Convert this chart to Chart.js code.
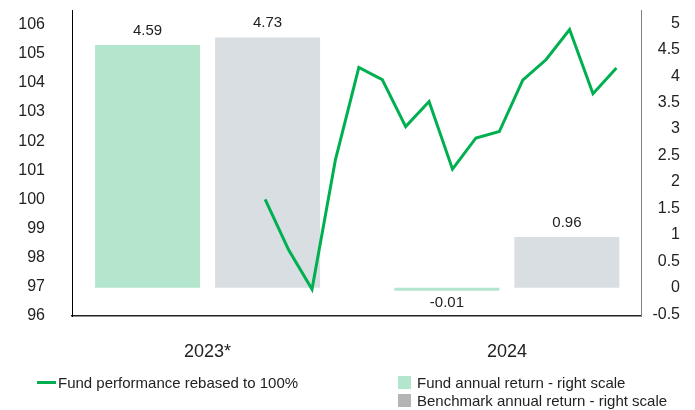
<!DOCTYPE html>
<html>
<head>
<meta charset="utf-8">
<script src="https://cdn.jsdelivr.net/npm/chart.js@4/dist/chart.umd.min.js"></script>
<style>
html, body { margin: 0; padding: 0; background: #fff; }
#wrap { position: relative; width: 695px; height: 410px; font-family: Arial, "Liberation Sans", sans-serif; }
#c { position: absolute; left: 0; top: 0; }
.lg { position: absolute; font-size: 15px; color: #222; white-space: nowrap; display: flex; align-items: center; height: 17px; }
.sw { display: inline-block; width: 13px; height: 13px; margin-right: 6px; }
.ln { display: inline-block; width: 19px; height: 3px; margin-right: 2px; }
</style>
</head>
<body>
<div id="wrap">
  <canvas id="c" width="695" height="410"></canvas>
  <div id="legend"></div>
</div>
<script>
// ---- data ----
const categories = ['2023*', '2024'];
const fundAnnual = [4.59, -0.01];
const benchAnnual = [4.73, 0.96];
const months = ['Sep 2023', 'Oct 2023', 'Nov 2023', 'Dec 2023',
  'Jan 2024', 'Feb 2024', 'Mar 2024', 'Apr 2024', 'May 2024', 'Jun 2024',
  'Jul 2024', 'Aug 2024', 'Sep 2024', 'Oct 2024', 'Nov 2024', 'Dec 2024'];
const fundPerf = [100.0, 98.27, 96.92, 101.36, 104.53, 104.11, 102.5, 103.36,
  101.04, 102.11, 102.33, 104.09, 104.8, 105.83, 103.63, 104.51];
const leftTicks = [96, 97, 98, 99, 100, 101, 102, 103, 104, 105, 106];
const rightTicks = [-0.5, 0, 0.5, 1, 1.5, 2, 2.5, 3, 3.5, 4, 4.5, 5];

const seriesNames = {
  line: 'Fund performance rebased to 100%',
  fund: 'Fund annual return - right scale',
  bench: 'Benchmark annual return - right scale'
};
const colors = { line: '#00b050', fund: '#b3e6cd', bench: '#d9dee2', benchLegend: '#b4b4b4' };

Chart.defaults.font.family = 'Arial, "Liberation Sans", sans-serif';
Chart.defaults.color = '#222';

const labelPlugin = {
  id: 'barLabels',
  afterDatasetsDraw(chart) {
    const ctx = chart.ctx;
    chart.data.datasets.forEach((ds, di) => {
      if (ds.type === 'line') return;
      const meta = chart.getDatasetMeta(di);
      meta.data.forEach((el, i) => {
        const v = ds.data[i].y;
        ctx.save();
        ctx.font = '15px Arial, "Liberation Sans", sans-serif';
        ctx.fillStyle = '#222';
        ctx.textAlign = 'center';
        if (v >= 0) {
          ctx.textBaseline = 'bottom';
          ctx.fillText(v.toFixed(2), el.x, el.y - 7);
        } else {
          ctx.textBaseline = 'top';
          ctx.fillText(v.toFixed(2), el.x, el.y + 5);
        }
        ctx.restore();
      });
    });
  }
};

// Chart.js 4.5 splits each bar slot between the two index axes (x and x2),
// so the category share is doubled to keep the bars at their intended width.
const barCategoryShare = 1.604;
const barShare = 0.875;

const noVerticalPadding = s => { s.paddingTop = 0; s.paddingBottom = 0; };

new Chart(document.getElementById('c'), {
  type: 'bar',
  data: {
    datasets: [
      {
        type: 'line',
        label: seriesNames.line,
        data: months.map((m, i) => ({ x: i, y: fundPerf[i] })),
        xAxisID: 'x2',
        yAxisID: 'yL',
        borderColor: colors.line,
        backgroundColor: colors.line,
        borderWidth: 3,
        pointRadius: 0,
        tension: 0,
        order: 0
      },
      {
        label: seriesNames.fund,
        data: categories.map((c, i) => ({ x: i, y: fundAnnual[i] })),
        xAxisID: 'x',
        yAxisID: 'yR',
        backgroundColor: colors.fund,
        categoryPercentage: barCategoryShare,
        barPercentage: barShare,
        minBarLength: 3,
        order: 1
      },
      {
        label: seriesNames.bench,
        data: categories.map((c, i) => ({ x: i, y: benchAnnual[i] })),
        xAxisID: 'x',
        yAxisID: 'yR',
        backgroundColor: colors.bench,
        categoryPercentage: barCategoryShare,
        barPercentage: barShare,
        minBarLength: 3,
        order: 1
      }
    ]
  },
  options: {
    responsive: false,
    animation: false,
    devicePixelRatio: 1,
    layout: { padding: { top: 10, right: 15, left: 0, bottom: 0 } },
    plugins: { legend: { display: false }, tooltip: { enabled: false } },
    scales: {
      x: {
        type: 'linear',
        position: 'bottom',
        offset: false,
        min: -0.453,
        max: 1.448,
        afterBuildTicks: s => { s.ticks = categories.map((c, i) => ({ value: i })); },
        afterFit: s => { s.height = 94; s.paddingLeft = 0; s.paddingRight = 0; },
        ticks: {
          callback: v => categories[v],
          font: { size: 18 },
          color: '#222',
          padding: 25,
          maxRotation: 0,
          autoSkip: false
        },
        grid: { display: false, drawTicks: false, offset: false },
        border: { display: true, color: '#222', width: 1.5 }
      },
      x2: {
        type: 'linear',
        display: false,
        offset: false,
        min: -8.25,
        max: 16.05,
        grid: { offset: false }
      },
      yL: {
        position: 'left',
        min: 96,
        max: 106.5,
        afterBuildTicks: s => { s.ticks = leftTicks.map(v => ({ value: v })); },
        afterFit: s => { s.width = 72; noVerticalPadding(s); },
        ticks: { font: { size: 16 }, color: '#222', padding: 27 },
        grid: { display: false, drawTicks: false },
        border: { display: true, color: '#000', width: 1 }
      },
      yR: {
        position: 'right',
        min: -0.535,
        max: 5.25,
        afterBuildTicks: s => { s.ticks = rightTicks.map(v => ({ value: v })); },
        afterFit: s => { s.width = 39; noVerticalPadding(s); },
        ticks: { font: { size: 16 }, color: '#222', padding: 2, crossAlign: 'far', callback: v => String(v) },
        grid: { display: false, drawTicks: false },
        border: { display: true, color: '#808080', width: 1 }
      }
    }
  },
  plugins: [labelPlugin]
});

// HTML legend
const legend = document.getElementById('legend');
legend.innerHTML =
  '<div class="lg" style="left:37px;top:374px"><span class="ln" style="background:' + colors.line + '"></span>' + seriesNames.line + '</div>' +
  '<div class="lg" style="left:398px;top:374px"><span class="sw" style="background:' + colors.fund + '"></span>' + seriesNames.fund + '</div>' +
  '<div class="lg" style="left:398px;top:392px"><span class="sw" style="background:' + colors.benchLegend + '"></span>' + seriesNames.bench + '</div>';
</script>
</body>
</html>
